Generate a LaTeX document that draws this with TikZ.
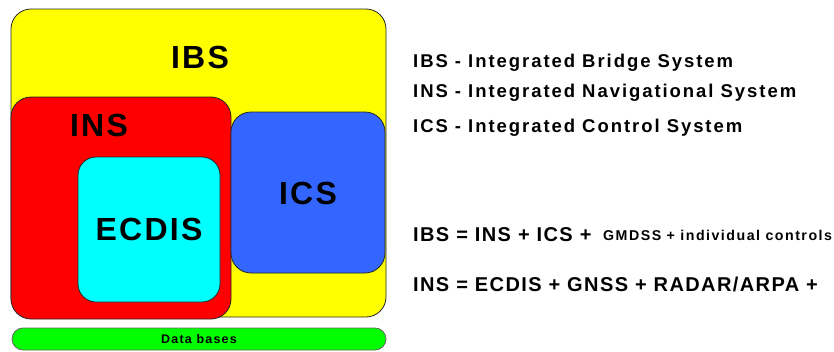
\documentclass[tikz,border=0pt]{standalone}
\usepackage{fontspec}
\setmainfont{Liberation Sans}
\newfontfamily\widefont{Liberation Sans}[LetterSpace=7]
\newfontfamily\legendfont{Liberation Sans}[LetterSpace=10.5]
\newfontfamily\formulafont{Liberation Sans}[LetterSpace=7]
\newfontfamily\smallfont{Liberation Sans}[LetterSpace=10.5]
\newfontfamily\barfont{Liberation Sans}[LetterSpace=9.6]
\definecolor{ibsyellow}{RGB}{255,255,0}
\definecolor{insred}{RGB}{255,0,0}
\definecolor{ecdiscyan}{RGB}{0,255,255}
\definecolor{icsblue}{RGB}{51,102,255}
\definecolor{dbgreen}{RGB}{0,255,0}
\begin{document}
\begin{tikzpicture}[x=1pt,y=-1pt,
  area/.style={draw=black!85, line width=0.8pt, rounded corners=20pt, inner sep=0pt},
  biglabel/.style={anchor=base, inner sep=0pt, font=\widefont\bfseries\fontsize{32}{36}\selectfont},
  legend/.style={anchor=base west, inner sep=0pt, font=\legendfont\bfseries\fontsize{18.5}{22}\selectfont},
  formula/.style={anchor=base west, inner sep=0pt, font=\formulafont\bfseries\fontsize{20}{24}\selectfont},
  smallformula/.style={anchor=base west, inner sep=0pt, font=\smallfont\bfseries\fontsize{14.2}{17}\selectfont}]
\useasboundingbox (0,0) rectangle (834,351);

% nested system areas
\node[area, fill=ibsyellow, minimum width=375pt, minimum height=308pt] (ibs) at (198.5,163) {};
\node[area, fill=insred, minimum width=220pt, minimum height=222pt] (ins) at (121,208) {};
\node[area, fill=ecdiscyan, rounded corners=18pt, minimum width=142pt, minimum height=145pt] (ecdis) at (149,229.5) {};
\node[area, fill=icsblue, minimum width=154pt, minimum height=161pt] (ics) at (308,192.5) {};
\node[area, draw=black!60, fill=dbgreen, rounded corners=11pt, minimum width=374pt, minimum height=22pt] (db) at (199,339) {};

% area labels
\node[biglabel] (ibslabel) at (200,68) {IBS};
\node[biglabel] (inslabel) at (99,136) {INS};
\node[biglabel] (icslabel) at (308,204) {ICS};
\node[biglabel] (ecdislabel) at (149,240) {ECDIS};
\node[anchor=base, inner sep=0pt, font=\barfont\bfseries\fontsize{12.5}{15}\selectfont] (dblabel) at (199,343) {Data bases};

% abbreviations
\node[legend] (l1) at (413,67) {IBS - Integrated Bridge System};
\node[legend] (l2) at (413,97) {INS - Integrated Navigational System};
\node[legend] (l3) at (413,132) {ICS - Integrated Control System};

% composition formulas
\node[formula] (f1) at (413,241) {IBS = INS + ICS +};
\node[smallformula] (f1b) at (603,240) {GMDSS + individual controls};
\node[formula] (f2) at (413,291) {INS = ECDIS + GNSS + RADAR/ARPA +};
\end{tikzpicture}
\end{document}
